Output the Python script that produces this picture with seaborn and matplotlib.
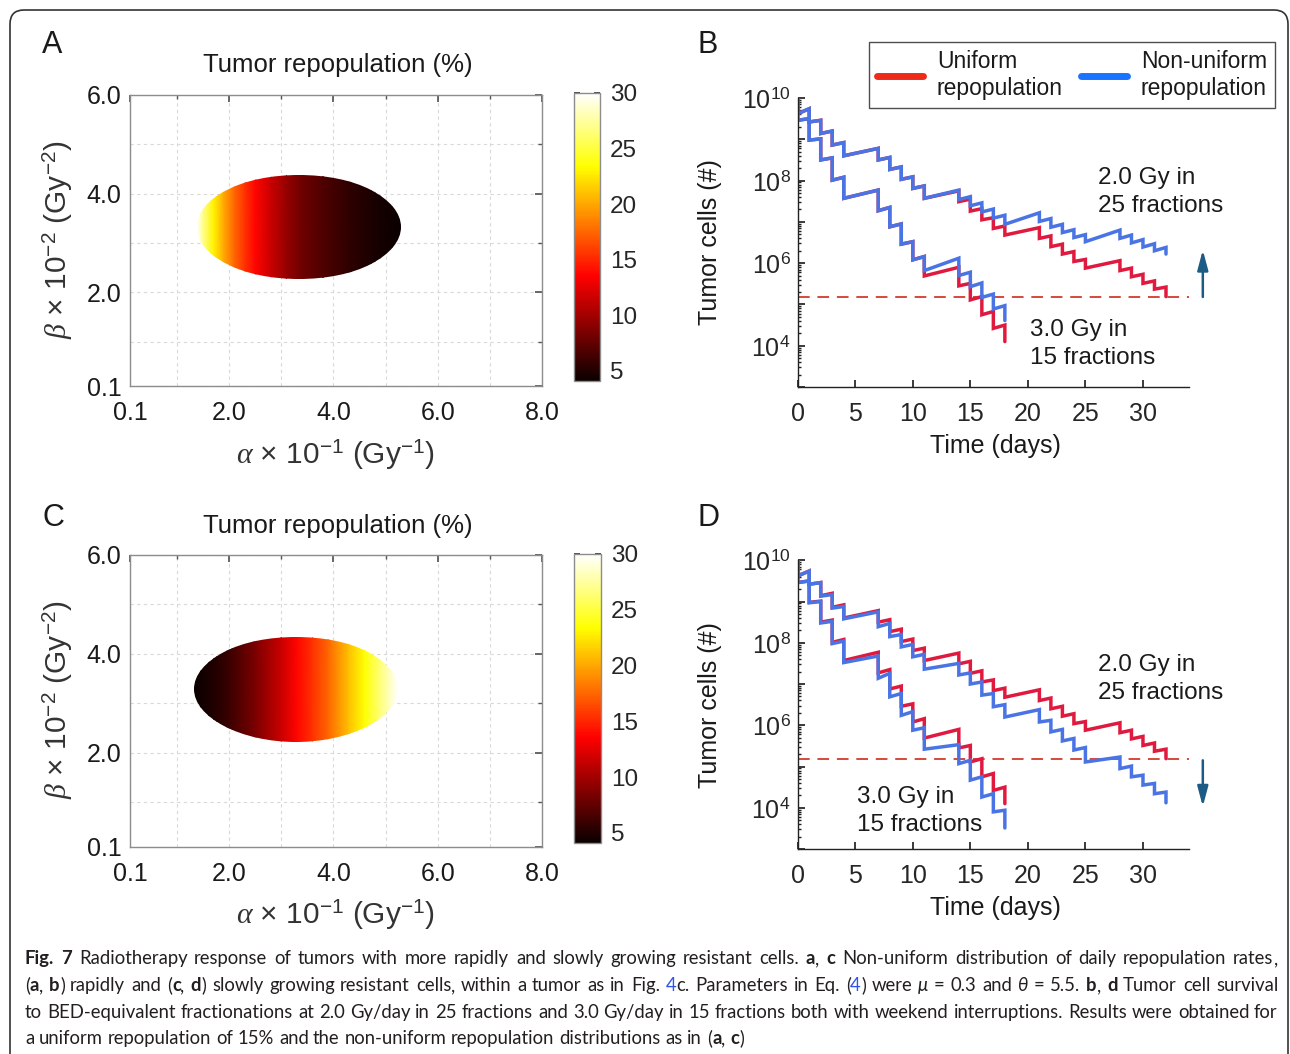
import numpy as np
import pandas as pd
import matplotlib
matplotlib.use("Agg")
import matplotlib.pyplot as plt
import matplotlib.transforms as mtransforms
from matplotlib.patches import Ellipse, FancyBboxPatch
from matplotlib.lines import Line2D
from matplotlib.ticker import FixedLocator, LogLocator, FuncFormatter, NullFormatter
import seaborn as sns

# ---------------- data ----------------
alpha_ticks = [0.1, 2.0, 4.0, 6.0, 8.0]
alpha_minor = [1.0, 3.0, 5.0, 7.0]
beta_ticks = [0.1, 2.0, 4.0, 6.0]
beta_minor = [1.0, 3.0, 5.0]
cbar_ticks = [5, 10, 15, 20, 25, 30]
repop_min, repop_max = 4.1, 30.0

# ellipse of (alpha, beta) support: centre x, centre y, width, height
ellipse_A = (3.335, 3.32, 3.91, 2.12)
ellipse_C = (3.285, 3.29, 3.91, 2.12)

# repopulation (%) across alpha inside the ellipse
alpha_A = [1.38, 1.5, 1.7, 1.9, 2.1, 2.3, 2.5, 2.8, 3.1, 3.4, 3.8, 4.3, 4.8, 5.29]
repop_A = [30.0, 27.0, 23.0, 20.0, 17.5, 15.5, 13.8, 11.5, 9.5, 8.0, 6.8, 5.6, 4.7, 4.1]
alpha_C = [1.33, 1.7, 2.0, 2.5, 3.0, 3.3, 3.6, 3.9, 4.3, 4.6, 4.9, 5.24]
repop_C = [4.1, 5.0, 6.0, 8.5, 11.5, 13.8, 15.5, 17.5, 21.0, 23.5, 26.5, 30.0]

# fraction days (Mon-Fri, weekend breaks)
days_25 = [0, 1, 2, 3, 4, 7, 8, 9, 10, 11, 14, 15, 16, 17, 18, 21, 22, 23, 24, 25, 28, 29, 30, 31, 32]
days_15 = days_25[:15]

# log10(tumor cells) just before / just after each fraction
uni_2gy_pre = [10.00, 9.74, 9.46, 9.20, 8.92, 8.78, 8.56, 8.33, 8.09, 7.87, 7.75, 7.55, 7.32, 7.10, 6.90,
               6.86, 6.66, 6.46, 6.28, 6.09, 6.06, 5.88, 5.73, 5.57, 5.42]
uni_2gy_post = [9.62, 9.42, 9.14, 8.86, 8.60, 8.50, 8.27, 8.03, 7.81, 7.57, 7.49, 7.26, 7.05, 6.84, 6.68,
                6.60, 6.40, 6.22, 6.04, 5.88, 5.82, 5.67, 5.51, 5.37, 5.19]
uni_3gy_pre = [10.00, 9.50, 9.01, 8.55, 8.08, 7.77, 7.35, 6.95, 6.52, 6.16, 5.90, 5.51, 5.19, 4.83, 4.50]
uni_3gy_post = [9.46, 8.98, 8.50, 8.01, 7.57, 7.27, 6.88, 6.46, 6.08, 5.69, 5.45, 5.11, 4.75, 4.42, 4.10]

# panel B: non-uniform, rapidly growing resistant cells
rap_2gy_pre = [10.00, 9.74, 9.46, 9.20, 8.92, 8.78, 8.56, 8.33, 8.09, 7.87, 7.77, 7.61, 7.46, 7.31, 7.16,
               7.22, 7.08, 6.94, 6.81, 6.69, 6.80, 6.68, 6.57, 6.47, 6.38]
rap_2gy_post = [9.62, 9.42, 9.14, 8.86, 8.60, 8.50, 8.27, 8.03, 7.81, 7.57, 7.54, 7.39, 7.24, 7.09, 6.94,
                7.01, 6.87, 6.74, 6.62, 6.52, 6.60, 6.49, 6.39, 6.30, 6.22]
rap_3gy_pre = [10.00, 9.50, 9.01, 8.55, 8.08, 7.77, 7.35, 6.95, 6.52, 6.16, 6.12, 5.78, 5.52, 5.25, 4.97]
rap_3gy_post = [9.46, 8.98, 8.50, 8.01, 7.57, 7.27, 6.88, 6.46, 6.08, 5.82, 5.70, 5.43, 5.17, 4.89, 4.61]

# panel D: non-uniform, slowly growing resistant cells
slow_2gy_pre = [10.00, 9.74, 9.46, 9.17, 8.88, 8.75, 8.47, 8.20, 7.96, 7.72, 7.50, 7.27, 7.05, 6.77, 6.50,
                6.38, 6.12, 5.90, 5.68, 5.46, 5.23, 5.01, 4.79, 4.59, 4.38]
slow_2gy_post = [9.62, 9.42, 9.13, 8.84, 8.58, 8.39, 8.15, 7.90, 7.66, 7.36, 7.22, 7.00, 6.73, 6.45, 6.20,
                 6.08, 5.84, 5.62, 5.40, 5.11, 4.95, 4.75, 4.55, 4.34, 4.12]
slow_3gy_pre = [10.00, 9.50, 9.00, 8.52, 8.04, 7.68, 7.26, 6.77, 6.33, 5.94, 5.53, 5.15, 4.75, 4.34, 3.94]
slow_3gy_post = [9.46, 8.97, 8.48, 7.98, 7.52, 7.14, 6.69, 6.24, 5.88, 5.42, 5.07, 4.67, 4.26, 3.90, 3.51]

time_ticks = [0, 5, 10, 15, 20, 25, 30]
legend_labels = ["Uniform\nrepopulation", "Non-uniform\nrepopulation"]

# ---------------- style ----------------
sns.set_theme(style="white")
plt.rcParams["font.family"] = ["Liberation Sans", "DejaVu Sans"]
plt.rcParams["mathtext.fontset"] = "custom"
plt.rcParams["mathtext.rm"] = "Liberation Sans"
plt.rcParams["mathtext.it"] = "Liberation Serif:italic"
plt.rcParams["mathtext.bf"] = "Liberation Sans:bold"
plt.rcParams["text.color"] = "#1a1a1a"

RED, BLUE = "#e01a3f", "#4a74e4"
LEG_RED, LEG_BLUE = "#ee2a1b", "#1a73ff"
DASH = "#d44a3c"
ARROW = "#1b5b85"
FS = 18

W, H = 1290, 1054
fig = plt.figure(figsize=(W / 100, H / 100), dpi=100)
fig.patch.set_facecolor("white")
renderer = fig.canvas.get_renderer()


def px_axes(left, top, right, bottom):
    return fig.add_axes([left / W, 1 - bottom / H, (right - left) / W, (bottom - top) / H])


def ftext(x, y, s, **kw):
    return fig.text(x / W, 1 - y / H, s, **kw)


# frame round the whole figure
frame = FancyBboxPatch((10, -30), 1278, 1074, boxstyle="round,pad=0,rounding_size=14",
                       transform=mtransforms.IdentityTransform(), fill=False,
                       edgecolor="#333333", linewidth=1.2)
fig.add_artist(frame)


# ---------------- heat-map panels ----------------
def heat_panel(box, cbox, ell, alphas, values, letter, letter_xy, title_y, xl_y, yl_y):
    ax = px_axes(*box)
    ax.set_xlim(0.1, 8.0)
    ax.set_ylim(0.1, 6.0)
    ax.set_xticks(alpha_ticks)
    ax.set_xticklabels(["%.1f" % v for v in alpha_ticks])
    ax.set_yticks(beta_ticks)
    ax.set_yticklabels(["%.1f" % v for v in beta_ticks])
    ax.xaxis.set_minor_locator(FixedLocator(alpha_minor))
    ax.yaxis.set_minor_locator(FixedLocator(beta_minor))
    ax.grid(True, which="both", linestyle=(0, (3, 3)), color="#d9d9d9", linewidth=0.8)
    ax.set_axisbelow(True)
    ax.tick_params(which="both", direction="in", top=True, right=True, color="#555555",
                   labelsize=FS, labelcolor="#1a1a1a")
    ax.tick_params(which="major", length=5)
    ax.tick_params(which="minor", length=3)
    ax.tick_params(axis="x", pad=11)
    ax.tick_params(axis="y", pad=6)
    for s in ax.spines.values():
        s.set_color("#8c8c8c")
        s.set_linewidth(1.0)

    cx, cy, w, h = ell
    X = np.array([alphas, alphas])
    Y = np.array([[cy - h / 2] * len(alphas), [cy + h / 2] * len(alphas)])
    C = np.array([values, values])
    mesh = ax.pcolormesh(X, Y, C, shading="gouraud", cmap="hot", vmin=repop_min, vmax=repop_max,
                         zorder=3)
    patch = Ellipse((cx, cy), w, h, facecolor="none", edgecolor="none")
    ax.add_patch(patch)
    mesh.set_clip_path(patch)

    cax = px_axes(*cbox)
    cb = fig.colorbar(mesh, cax=cax, ticks=cbar_ticks)
    cb.outline.set_edgecolor("#8c8c8c")
    cb.outline.set_linewidth(1.0)
    cax.tick_params(direction="in", length=4, labelsize=17.5, pad=7, color="#333333",
                    left=True, right=True)

    mid = (box[0] + box[2]) / 2
    ftext(mid + 2, title_y, "Tumor repopulation (%)", fontsize=18.5, ha="center", va="center")
    ftext(mid, xl_y, r"$\alpha$ × 10$^{-1}$ (Gy$^{-1}$)", fontsize=21.5, ha="center", va="center",
          color="#333333")
    ftext(58, yl_y, r"$\beta$ × 10$^{-2}$ (Gy$^{-2}$)", fontsize=21.5, ha="center", va="center",
          rotation=90, color="#333333")
    ftext(letter_xy[0], letter_xy[1], letter, fontsize=22, ha="center", va="center")
    return ax


heat_panel((130, 95, 542, 386), (574, 93, 600, 381), ellipse_A, alpha_A, repop_A,
           "A", (52, 45), 65, 455, 240)
heat_panel((130, 555, 542, 847), (574, 554, 601, 843), ellipse_C, alpha_C, repop_C,
           "C", (53, 518), 526, 915, 700)


# ---------------- survival panels ----------------
def curve_frame(days, pre, post, model, regime):
    t, v = [], []
    for d, a, b in zip(days, pre, post):
        t += [d, d]
        v += [a, b]
    return pd.DataFrame({"t": t, "cells": 10.0 ** np.array(v), "model": model, "regime": regime})


def log_label(v, pos):
    e = int(round(np.log10(v)))
    if e >= 4 and e % 2 == 0:
        return r"$10^{%d}$" % e
    return ""


def survival_panel(box, nonuni_2, nonuni_3, letter, letter_xy, text2, text3, arrow, yl_y, xl_y):
    ax = px_axes(*box)
    df = pd.concat([
        curve_frame(days_25, uni_2gy_pre, uni_2gy_post, "Uniform", "2.0 Gy"),
        curve_frame(days_15, uni_3gy_pre, uni_3gy_post, "Uniform", "3.0 Gy"),
        curve_frame(days_25, nonuni_2[0], nonuni_2[1], "Non-uniform", "2.0 Gy"),
        curve_frame(days_15, nonuni_3[0], nonuni_3[1], "Non-uniform", "3.0 Gy"),
    ], ignore_index=True)
    sns.lineplot(data=df, x="t", y="cells", hue="model", hue_order=["Uniform", "Non-uniform"],
                 units="regime", estimator=None, sort=False,
                 palette={"Uniform": RED, "Non-uniform": BLUE}, linewidth=2.5,
                 legend=False, ax=ax, solid_joinstyle="miter")
    ax.set_yscale("log")
    ax.set_xlim(0, 34)
    ax.set_ylim(1e3, 1e10)
    ax.set_xlabel("")
    ax.set_ylabel("")
    ax.set_xticks(time_ticks)
    ax.yaxis.set_major_locator(LogLocator(base=10, numticks=20))
    ax.yaxis.set_major_formatter(FuncFormatter(log_label))
    ax.yaxis.set_minor_locator(LogLocator(base=10, subs=np.arange(2, 10), numticks=20))
    ax.yaxis.set_minor_formatter(NullFormatter())
    ax.tick_params(which="both", direction="in", color="#222222", labelsize=FS,
                   left=True, bottom=True)
    ax.tick_params(which="major", length=5)
    ax.tick_params(which="minor", length=2.5)
    ax.tick_params(axis="x", pad=11)
    ax.tick_params(axis="y", pad=5)
    for side in ("top", "right"):
        ax.spines[side].set_visible(False)
    for side in ("left", "bottom"):
        ax.spines[side].set_color("#222222")
        ax.spines[side].set_linewidth(1.0)

    # threshold: final level of uniform 2.0 Gy schedule
    level = 10.0 ** uni_2gy_post[-1]
    ax.plot([0, 34], [level, level], color=DASH, linewidth=1.4, linestyle=(0, (6, 4)),
            zorder=1.5, clip_on=False)

    ax.text(text2[0], 10 ** text2[1], "2.0 Gy in\n25 fractions", fontsize=17.5, ha="left",
            va="center", linespacing=1.35)
    ax.text(text3[0], 10 ** text3[1], "3.0 Gy in\n15 fractions", fontsize=17.5, ha="left",
            va="center", linespacing=1.35)
    ax.annotate("", xy=(arrow[0], 10 ** arrow[2]), xytext=(arrow[0], 10 ** arrow[1]),
                arrowprops=dict(arrowstyle="-|>,head_length=0.6,head_width=0.16", color=ARROW,
                                lw=1.8, shrinkA=0, shrinkB=0, mutation_scale=20),
                annotation_clip=False)

    ftext(995, xl_y, "Time (days)", fontsize=FS, ha="center", va="center")
    ftext(710, yl_y, "Tumor cells (#)", fontsize=FS, ha="center", va="center", rotation=90)
    ftext(letter_xy[0], letter_xy[1], letter, fontsize=22, ha="center", va="center")
    return ax


axB = survival_panel((797.7, 98, 1189, 387), (rap_2gy_pre, rap_2gy_post), (rap_3gy_pre, rap_3gy_post),
                     "B", (708, 45), (26.1, 7.72), (20.2, 4.04), (35.2, 5.18, 6.32), 242, 446)
axD = survival_panel((797.7, 560.3, 1189, 849), (slow_2gy_pre, slow_2gy_post),
                     (slow_3gy_pre, slow_3gy_post),
                     "D", (709, 518), (26.1, 7.13), (5.15, 3.91), (35.2, 5.15, 4.03), 705, 908)

handles = [Line2D([0], [0], color=LEG_RED, lw=5), Line2D([0], [0], color=LEG_BLUE, lw=5)]
leg = axB.legend(handles=handles, labels=legend_labels, ncol=2, loc="upper right",
                 bbox_to_anchor=(1275 / W, 1 - 42 / H), bbox_transform=fig.transFigure,
                 fontsize=16.5, frameon=True, fancybox=False, edgecolor="#222222",
                 handlelength=2.0, handletextpad=0.6, columnspacing=0.8, borderpad=0.35,
                 borderaxespad=0)
leg.get_frame().set_linewidth(1.0)
leg.set_zorder(10)

# ---------------- caption ----------------
CAP_FAMILY = ["Lato", "DejaVu Sans"]
CAP_COLOR = "#231f20"
LINK = "#2f54eb"
styles = {
    "n": dict(family=CAP_FAMILY, color=CAP_COLOR),
    "b": dict(family=CAP_FAMILY, color=CAP_COLOR, weight="bold"),
    "i": dict(family=CAP_FAMILY, color=CAP_COLOR, style="italic"),
    "l": dict(family=CAP_FAMILY, color=LINK),
}
caption_lines = [
    [("Fig. 7", "b"),
     (" Radiotherapy response of tumors with more rapidly and slowly growing resistant cells.", "n"),
     (" a", "b"), (",", "n"), (" c", "b"),
     (" Non-uniform distribution of daily repopulation rates,", "n")],
    [("(", "n"), ("a", "b"), (",", "n"), (" b", "b"), (") rapidly and (", "n"), ("c", "b"), (",", "n"),
     (" d", "b"), (") slowly growing resistant cells, within a tumor as in Fig.", "n"), (" 4", "l"),
     ("c. Parameters in Eq. (", "n"), ("4", "l"), (") were", "n"), (" μ", "i"), (" = 0.3 and", "n"),
     (" θ", "i"), (" = 5.5.", "n"), (" b", "b"), (",", "n"), (" d", "b"), (" Tumor cell survival", "n")],
    [("to BED-equivalent fractionations at 2.0 Gy/day in 25 fractions and 3.0 Gy/day in 15 fractions "
      "both with weekend interruptions. Results were obtained for", "n")],
    [("a uniform repopulation of 15% and the non-uniform repopulation distributions as in (", "n"),
     ("a", "b"), (",", "n"), (" c", "b"), (")", "n")],
]
caption_baselines = [964, 991, 1018, 1044]
caption_justify = [True, True, True, False]
CAP_X0, CAP_X1 = 25, 1278


def measure(s, size, st):
    t = fig.text(0, 0, s, fontsize=size, **styles[st])
    w = t.get_window_extent(renderer).width
    t.remove()
    return w


def tokens(runs):
    out = []
    for text, st in runs:
        parts = text.split(" ")
        for j, p in enumerate(parts):
            if p == "":
                continue
            spb = j > 0
            # keep trailing commas as their own glyph run
            if len(p) > 1 and p.endswith(","):
                out.append((p[:-1], st, spb))
                out.append((",", st, False))
            else:
                out.append((p, st, spb))
    return out


def natural_width(toks, size):
    sp = measure("x x", size, "n") - measure("xx", size, "n")
    tot = 0.0
    for i, (p, st, spb) in enumerate(toks):
        if spb and i > 0:
            tot += sp
        tot += measure(p, size, st)
    return tot, sp


base = 12.0
widths = [natural_width(tokens(l), base)[0] for l in caption_lines[:3]]
cap_size = min(15.0, base * (CAP_X1 - CAP_X0) / max(widths) * 0.995)

for runs, yb, just in zip(caption_lines, caption_baselines, caption_justify):
    toks = tokens(runs)
    ws = [measure(p, cap_size, st) for p, st, _ in toks]
    _, sp = natural_width(toks, cap_size)
    ngaps = sum(1 for i, t in enumerate(toks) if t[2] and i > 0)
    gap = (CAP_X1 - CAP_X0 - sum(ws)) / ngaps if (just and ngaps) else sp
    x = CAP_X0
    for i, ((p, st, spb), w) in enumerate(zip(toks, ws)):
        if spb and i > 0:
            x += gap
        ftext(round(x), yb, p, fontsize=cap_size, va="baseline", ha="left", **styles[st])
        x += w

fig.savefig("out.png", dpi=100, facecolor="white")
